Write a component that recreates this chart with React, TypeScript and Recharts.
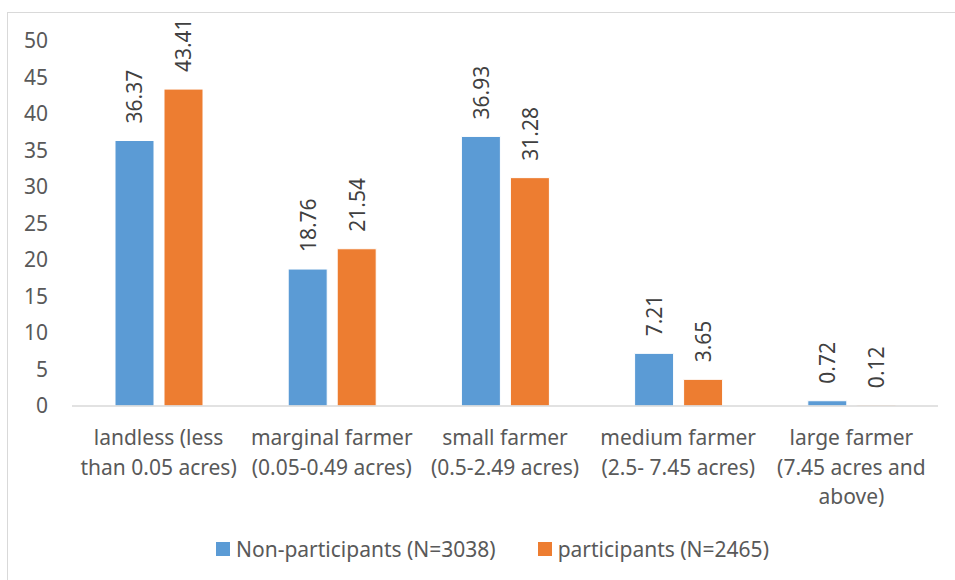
import { BarChart, Bar, XAxis, YAxis, Legend, LabelList } from 'recharts'

const categories = ['landless', 'marginal', 'small', 'medium', 'large']
const categoryLines: Record<string, string[]> = {
  landless: ['landless (less', 'than 0.05 acres)'],
  marginal: ['marginal farmer', '(0.05-0.49 acres)'],
  small: ['small farmer', '(0.5-2.49 acres)'],
  medium: ['medium farmer', '(2.5- 7.45 acres)'],
  large: ['large farmer', '(7.45 acres and', 'above)'],
}
const nonParticipants = [36.37, 18.76, 36.93, 7.21, 0.72]
const participants = [43.41, 21.54, 31.28, 3.65, 0.12]
const yTicks = [0, 5, 10, 15, 20, 25, 30, 35, 40, 45, 50]

const series = [
  { key: 'nonParticipants', name: 'Non-participants (N=3038)', color: '#5b9bd5' },
  { key: 'participants', name: 'participants (N=2465)', color: '#ed7d31' },
]

const data = categories.map((c, i) => ({
  category: c,
  nonParticipants: nonParticipants[i],
  participants: participants[i],
}))

const FONT = '"Noto Sans", sans-serif'

function CategoryTick({ x, y, payload }: any) {
  const lines = categoryLines[payload.value] ?? [payload.value]
  return (
    <text x={x} y={y} textAnchor="middle" fill="#595959" fontSize={21} fontFamily={FONT}>
      {lines.map((line, i) => (
        <tspan key={i} x={x} y={y + 39 + i * 29.5}>
          {line}
        </tspan>
      ))}
    </text>
  )
}

function ValueLabel({ x, y, width, value }: any) {
  const cx = x + width / 2
  const ty = y - 17
  return (
    <text
      x={cx}
      y={ty}
      transform={`rotate(-90 ${cx} ${ty})`}
      textAnchor="start"
      dominantBaseline="central"
      fill="#404040"
      fontSize={21}
      fontFamily={FONT}
    >
      {value}
    </text>
  )
}

function LegendContent() {
  return (
    <div style={{ display: 'flex', alignItems: 'center', height: 40, fontFamily: FONT, fontSize: 21, color: '#595959' }}>
      {series.map((s, i) => (
        <div key={s.key} style={{ display: 'flex', alignItems: 'center', marginLeft: i === 0 ? 0 : 42 }}>
          <span style={{ width: 14, height: 14, background: s.color, display: 'inline-block', marginRight: 6 }} />
          <span style={{ whiteSpace: 'nowrap' }}>{s.name}</span>
        </div>
      ))}
    </div>
  )
}

export default function App() {
  return (
    <div style={{ position: 'absolute', left: 0, top: 0, width: 955, height: 580, overflow: 'hidden', background: '#fff' }}>
      <div style={{ position: 'absolute', left: 7, top: 12, width: 1000, height: 1000, border: '1px solid #d9d9d9' }} />
      <BarChart
        width={955}
        height={580}
        data={data}
        margin={{ top: 41, right: 17, bottom: 11, left: 12 }}
        barSize={39}
        barGap={10}
        style={{ position: 'absolute', left: 0, top: 0 }}
      >
        <XAxis
          dataKey="category"
          height={123}
          axisLine={{ stroke: '#d9d9d9', strokeWidth: 1.5 }}
          tickLine={false}
          tickSize={0}
          tickMargin={0}
          interval={0}
          tick={<CategoryTick />}
        />
        <YAxis
          width={60}
          domain={[0, 50]}
          ticks={yTicks}
          axisLine={false}
          tickLine={false}
          tickMargin={18}
          tick={{ fill: '#595959', fontSize: 21, fontFamily: FONT }}
        />
        <Legend
          verticalAlign="bottom"
          height={40}
          wrapperStyle={{ left: 216, width: 'auto' }}
          content={<LegendContent />}
        />
        {series.map((s) => (
          <Bar key={s.key} dataKey={s.key} name={s.name} fill={s.color} stroke="#fff" strokeWidth={1} isAnimationActive={false}>
            <LabelList dataKey={s.key} content={<ValueLabel />} />
          </Bar>
        ))}
      </BarChart>
    </div>
  )
}
